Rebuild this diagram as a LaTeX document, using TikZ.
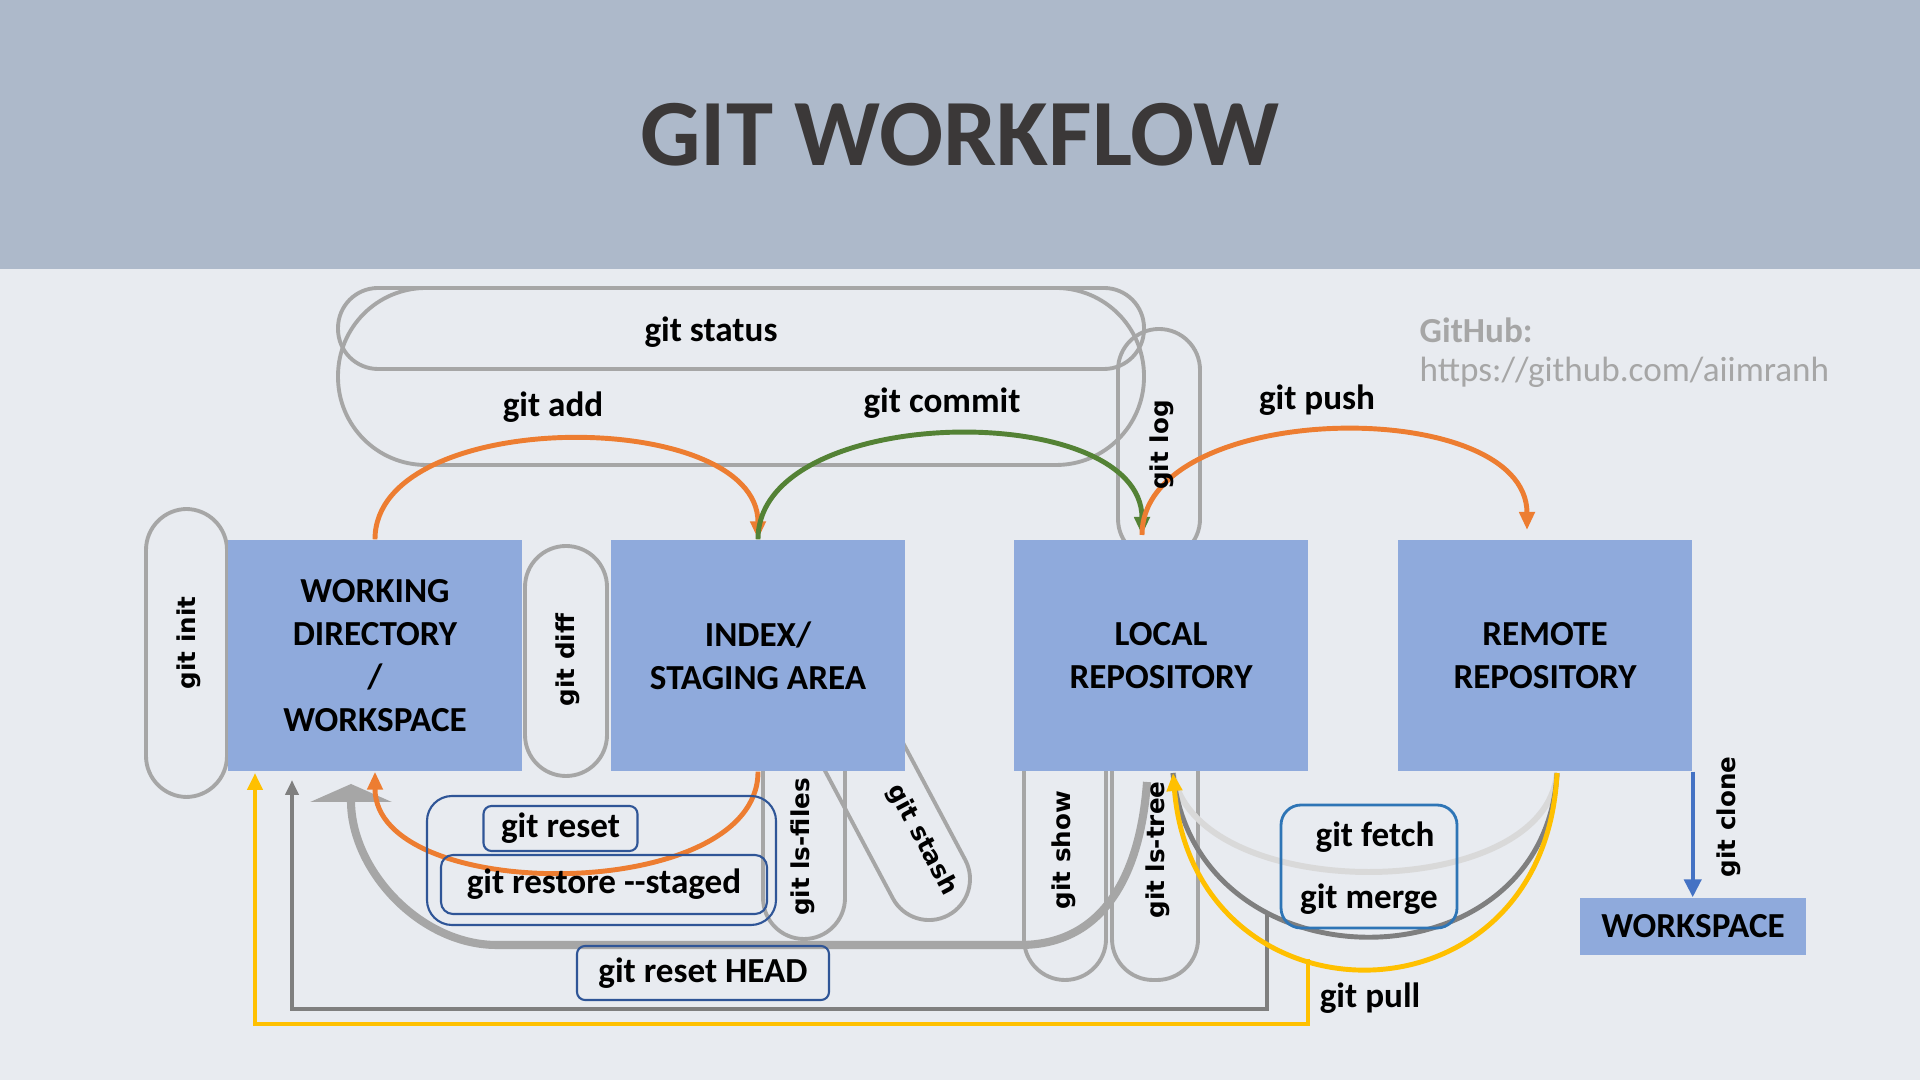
\documentclass[tikz,border=0pt]{standalone}
\usepackage{fontspec}
\setmainfont{Carlito}[Ligatures=TeXOff]
\newfontfamily\pillfont{DejaVu Sans}
\usepackage{tikz}
\usetikzlibrary{
	arrows.meta,
	calc
}
\definecolor{HeadBlue}{HTML}{ADB9CA}
\definecolor{PageGray}{HTML}{E8EBF0}
\definecolor{BoxBlue}{HTML}{8FAADC}
\definecolor{PillGray}{HTML}{A6A6A6}
\definecolor{TitleGray}{HTML}{3B3838}
\definecolor{ArrOrange}{HTML}{ED7D31}
\definecolor{ArrGreen}{HTML}{548235}
\definecolor{ArrYellow}{HTML}{FFC000}
\definecolor{ArrGray}{HTML}{7F7F7F}
\definecolor{FetchGray}{HTML}{D9D9D9}
\definecolor{CloneBlue}{HTML}{4472C4}
\definecolor{TagBlue}{HTML}{2F5597}
\definecolor{MidBlue}{HTML}{2E75B6}

\begin{document}
\begin{tikzpicture}[
		area/.style={fill=BoxBlue, minimum width=2.94cm, minimum height=2.31cm, inner sep=0pt, align=center, font=\bfseries\fontsize{10}{12.3}\selectfont},
		pill/.style={draw=PillGray, line width=1.1pt, rounded corners=0.41cm, inner sep=0pt},
		cmd/.style={font=\bfseries\fontsize{10}{12}\selectfont, inner sep=0pt},
		vcmd/.style={font=\pillfont\bfseries\fontsize{7}{8}\selectfont, rotate=90, inner sep=0pt},
		tag/.style={draw=TagBlue, line width=0.6pt, rounded corners=0.08cm, inner sep=0pt, font=\bfseries\fontsize{10}{12}\selectfont},
		flow/.style={line width=1.4pt, -{Triangle[width=0.15cm,length=0.18cm]}}
	]
		% 背景
		\useasboundingbox (0,0) rectangle (19.2,10.8);
		\fill[PageGray] (0,0) rectangle (19.2,10.8);
		\fill[HeadBlue] (0,8.11) rectangle (19.2,10.8);
		\node[font=\bfseries\fontsize{27}{32}\selectfont, text=TitleGray, anchor=base] (title) at (9.6,9.14) {GIT WORKFLOW};
		
		% 命令外框（灰色）
		\node[pill, minimum width=0.81cm, minimum height=2.88cm] (initpill) at (1.865,4.27) {};
		\node[pill, minimum width=0.82cm, minimum height=2.30cm] (diffpill) at (5.66,4.19) {};
		\node[pill, rounded corners=0.88cm, minimum width=8.06cm, minimum height=1.77cm] (addpill) at (7.41,7.035) {};
		\node[pill, rounded corners=0.40cm, minimum width=8.06cm, minimum height=0.81cm] (statuspill) at (7.41,7.515) {};
		\node[pill, minimum width=0.82cm, minimum height=2.31cm] (logpill) at (11.59,6.355) {};
		\node[pill, minimum width=0.82cm, minimum height=2.39cm] (filespill) at (8.04,2.605) {};
		\node[pill, minimum width=3.12cm, minimum height=0.82cm, rotate=-62] (stashpill) at (8.75,3.025) {};
		\node[pill, minimum width=0.82cm, minimum height=2.80cm] (showpill) at (10.65,2.40) {};
		\node[pill, minimum width=0.86cm, minimum height=2.80cm] (treepill) at (11.55,2.40) {};
		
		% 区域
		\node[area] (wd) at (3.75,4.245) {WORKING\\DIRECTORY\\/\\WORKSPACE};
		\node[area] (idx) at (7.58,4.245) {INDEX/\\STAGING AREA};
		\node[area] (loc) at (11.61,4.245) {LOCAL\\REPOSITORY};
		\node[area] (rem) at (15.45,4.245) {REMOTE\\REPOSITORY};
		\node[area, minimum width=2.26cm, minimum height=0.57cm] (ws) at (16.93,1.535) {WORKSPACE};
		
		% 端点
		\coordinate (locin) at (11.42,5.45);
		\coordinate (remin) at (15.27,5.50);
		\coordinate (headstart) at (11.47,2.98);
		\coordinate (remout) at (15.57,3.07);
		\coordinate (locback) at (11.73,3.07);
		\coordinate (mergeout) at (12.67,1.67);
		\coordinate (pullout) at (13.08,1.21);
		\coordinate (wdgray) at (2.92,3.00);
		\coordinate (wdyellow) at (2.55,3.07);
		
		% git reset HEAD（粗灰箭头）
		\draw[PillGray, line width=2.3pt, -{Triangle[width=0.81cm,length=0.18cm]}] (headstart) .. controls (11.40,2.0) and (11.0,1.35) .. (10.20,1.35) -- (4.97,1.35) .. controls (4.2,1.35) and (3.51,2.1) .. (3.51,2.96);
		
		% 上方箭头
		\draw[flow, ArrOrange] (wd.north) .. controls +(0,1.33) and +(0,1.33) .. (idx.north);
		\draw[flow, ArrGreen] (idx.north) .. controls +(0,1.37) and +(0,1.37) .. (locin);
		\draw[flow, ArrOrange] (locin) .. controls +(0,1.36) and +(0,1.36) .. (remin);
		
		% git reset（橙色）
		\draw[flow, ArrOrange] (idx.south) .. controls +(0,-1.33) and +(0,-1.33) .. (wd.south);
		
		% fetch / merge / pull
		\draw[FetchGray, line width=1.7pt] (remout) .. controls (15.45,1.75) and (11.95,1.75) .. (locback);
		\draw[ArrGray, line width=1.4pt] (remout) .. controls (15.45,0.88) and (11.95,0.88) .. (locback);
		\draw[ArrGray, line width=1.4pt, -{Triangle[width=0.13cm,length=0.15cm]}] (mergeout) -- (12.67,0.71) -| (wdgray);
		\draw[flow, ArrYellow] (remout) .. controls (15.45,0.47) and (11.95,0.47) .. (locback);
		\draw[ArrYellow, line width=1.4pt, -{Triangle[width=0.15cm,length=0.17cm]}] (pullout) -- (13.08,0.56) -| (wdyellow);
		
		% git clone
		\draw[CloneBlue, line width=1.2pt, -{Triangle[width=0.17cm,length=0.18cm]}] (rem.south east) -- (rem.south east |- ws.north);
		
		% 标签
		\node[cmd] (status) at (7.11,7.48) {git status};
		\node[cmd] (add) at (5.53,6.73) {git add};
		\node[cmd] (commit) at (9.42,6.77) {git commit};
		\node[cmd] (push) at (13.17,6.80) {git push};
		\node[cmd] (fetch) at (13.75,2.43) {git fetch};
		\node[cmd] (merge) at (13.69,1.81) {git merge};
		\node[cmd] (pull) at (13.70,0.82) {git pull};
		\node[draw=MidBlue, line width=0.8pt, rounded corners=0.2cm, minimum width=1.76cm, minimum height=1.23cm] (syncbox) at (13.69,2.135) {};
		
		\node[tag, rounded corners=0.25cm, minimum width=3.49cm, minimum height=1.29cm] (resetgroup) at (6.015,2.195) {};
		\node[tag, minimum width=1.54cm, minimum height=0.45cm] (reset) at (5.605,2.515) {git reset};
		\node[tag, rounded corners=0.12cm, minimum width=3.26cm, minimum height=0.59cm] (restore) at (6.04,1.955) {git restore --staged};
		\node[tag, minimum width=2.52cm, minimum height=0.54cm] (resethead) at (7.03,1.07) {git reset HEAD};
		
		\node[vcmd] (init) at (1.89,4.37) {git init};
		\node[vcmd] (diff) at (5.68,4.20) {git diff};
		\node[vcmd] (log) at (11.62,6.35) {git log};
		\node[vcmd] (files) at (8.03,2.33) {git ls-files};
		\node[vcmd, rotate=-152] (stash) at (9.22,2.40) {git stash};
		\node[vcmd] (show) at (10.64,2.30) {git show};
		\node[vcmd] (tree) at (11.58,2.30) {git ls-tree};
		\node[vcmd] (clone) at (17.29,2.63) {git clone};
		
		% GitHub
		\node[anchor=west, inner sep=0pt, text=PillGray, font=\bfseries\fontsize{10}{12}\selectfont] (ghlabel) at (14.19,7.50) {GitHub:};
		\node[anchor=west, inner sep=0pt, text=PillGray, font=\fontsize{10}{12}\selectfont] (ghurl) at (14.19,7.08) {https://github.com/aiimranh};
	\end{tikzpicture}
\end{document}
